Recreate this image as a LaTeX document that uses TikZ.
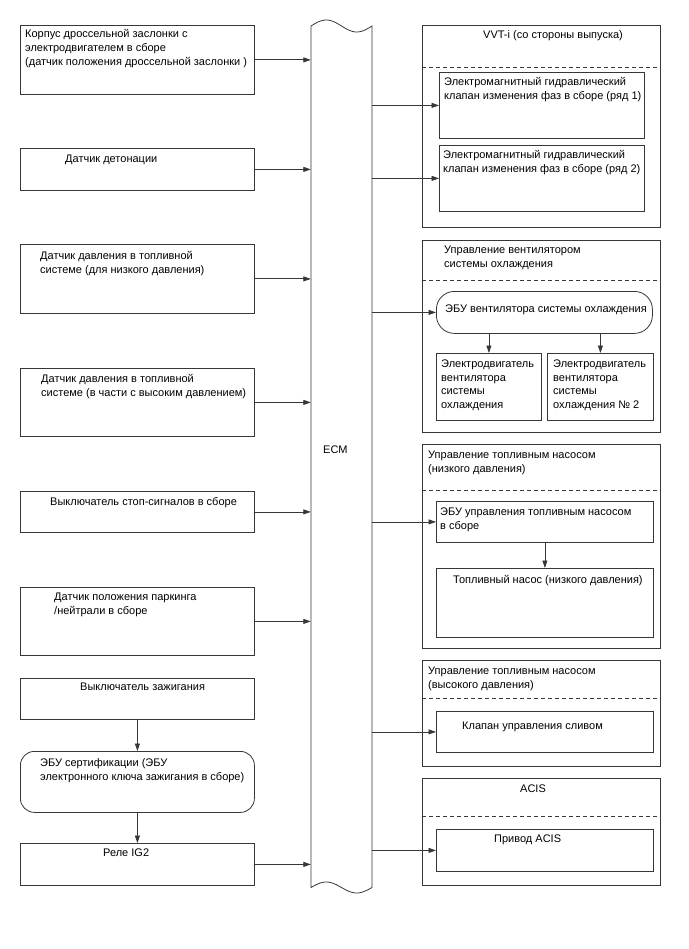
\documentclass[tikz,border=0pt]{standalone}
\usepackage{fontspec}
\setmainfont{Liberation Sans}
\usetikzlibrary{arrows.meta, calc}
\definecolor{linegray}{RGB}{55, 55, 55}
\tikzset{
  blk/.style={
    draw=linegray,
    line width=0.8pt,
    anchor=north west,
    inner sep=0pt
  },
  rblk/.style={blk, rounded corners=14pt},
  txt/.style={
    anchor=north west,
    inner sep=0pt,
    yshift=-1.5pt,
    align=left,
    font=\fontsize{11}{13.8}\selectfont
  },
  sig/.style={
    draw=linegray,
    line width=0.8pt,
    -{Triangle[length=7.5pt,width=5pt]}
  },
  sep/.style={
    draw=linegray,
    line width=0.8pt,
    dash pattern=on 4pt off 3pt
  },
  ecmline/.style={draw=linegray, line width=0.8pt}
}

\begin{document}
\begin{tikzpicture}[x=1pt, y=-1pt]
  \useasboundingbox (0,0) rectangle (688,949);

  % inputs
  \node[blk, minimum width=234, minimum height=69] (thr) at (20,25) {};
  \node[txt] at (25,28) {Корпус дроссельной заслонки с\\электродвигателем в сборе\\(датчик положения дроссельной заслонки )};
  \node[blk, minimum width=234, minimum height=42] (knk) at (20,148) {};
  \node[txt] at (65,153) {Датчик детонации};
  \node[blk, minimum width=234, minimum height=69] (lps) at (20,244) {};
  \node[txt] at (40,250) {Датчик давления в топливной\\системе (для низкого давления)};
  \node[blk, minimum width=234, minimum height=68] (hps) at (20,368) {};
  \node[txt] at (41,373) {Датчик давления в топливной\\системе (в части с высоким давлением)};
  \node[blk, minimum width=234, minimum height=41] (stp) at (20,491) {};
  \node[txt] at (50,496) {Выключатель стоп-сигналов в сборе};
  \node[blk, minimum width=234, minimum height=68] (pnp) at (20,587) {};
  \node[txt] at (54,591) {Датчик положения паркинга\\/нейтрали в сборе};
  \node[blk, minimum width=234, minimum height=41] (ign) at (20,678) {};
  \node[txt] at (80,681) {Выключатель зажигания};
  \node[rblk, minimum width=234, minimum height=61] (cert) at (20,751) {};
  \node[txt] at (40,757) {ЭБУ сертификации (ЭБУ\\электронного ключа зажигания в сборе)};
  \node[blk, minimum width=234, minimum height=42] (ig2) at (20,843) {};
  \node[txt] at (103,847) {Реле IG2};

  % ECM
  \node[inner sep=0pt, minimum width=61, minimum height=861] (ecm) at (341.5,456.5) {};
  \draw[ecmline] (311,887.5) -- (311,26)
    -- plot[domain=311:372, samples=40] (\x,{26-6*sin(5.9016*(\x-311))})
    -- (372,887.5)
    -- plot[domain=372:311, samples=40] (\x,{887.5-5.5*sin(5.9016*(\x-311))})
    -- cycle;
  \node[txt] (ecmlbl) at (323,444) {ECM};

  % VVT-i
  \node[blk, minimum width=238, minimum height=202] (vvt) at (422,25) {};
  \draw[sep] (vvt.west |- 0,67) -- (vvt.east |- 0,67);
  \node[txt] at (483,29) {VVT-i (со стороны выпуска)};
  \node[blk, minimum width=205, minimum height=66] (vvta) at (439,72) {};
  \node[txt] at (444,76) {Электромагнитный гидравлический\\клапан изменения фаз в сборе (ряд 1)};
  \node[blk, minimum width=205, minimum height=66] (vvtb) at (439,145) {};
  \node[txt] at (443,149) {Электромагнитный гидравлический\\клапан изменения фаз в сборе (ряд 2)};

  % cooling fan
  \node[blk, minimum width=238, minimum height=192] (fan) at (422,240) {};
  \draw[sep] (fan.west |- 0,280) -- (fan.east |- 0,280);
  \node[txt] at (444,244) {Управление вентилятором\\системы охлаждения};
  \node[rblk, rounded corners=18pt, minimum width=216, minimum height=42] (fanecu) at (436,291) {};
  \node[txt] at (445,303) {ЭБУ вентилятора системы охлаждения};
  \node[blk, minimum width=105, minimum height=67] (fma) at (436,353) {};
  \node[txt] at (441,358) {Электродвигатель\\вентилятора\\системы\\охлаждения};
  \node[blk, minimum width=106, minimum height=67] (fmb) at (547,353) {};
  \node[txt] at (553,358) {Электродвигатель\\вентилятора\\системы\\охлаждения №~2};

  % fuel pump, low pressure
  \node[blk, minimum width=238, minimum height=204] (lpp) at (422,444) {};
  \draw[sep] (lpp.west |- 0,490) -- (lpp.east |- 0,490);
  \node[txt] at (428,449) {Управление топливным насосом\\(низкого давления)};
  \node[blk, minimum width=217, minimum height=41] (lpecu) at (436,501) {};
  \node[txt] at (440,506) {ЭБУ управления топливным насосом\\в сборе};
  \node[blk, minimum width=217, minimum height=69] (pump) at (436,568) {};
  \node[txt] at (453,574) {Топливный насос (низкого давления)};

  % fuel pump, high pressure
  \node[blk, minimum width=238, minimum height=106] (hpp) at (422,660) {};
  \draw[sep] (hpp.west |- 0,698) -- (hpp.east |- 0,698);
  \node[txt] at (428,665) {Управление топливным насосом\\(высокого давления)};
  \node[blk, minimum width=217, minimum height=41] (spill) at (436,711) {};
  \node[txt] at (462,720) {Клапан управления сливом};

  % ACIS
  \node[blk, minimum width=238, minimum height=107] (acis) at (422,778) {};
  \draw[sep] (acis.west |- 0,816) -- (acis.east |- 0,816);
  \node[txt] at (520,783) {ACIS};
  \node[blk, minimum width=217, minimum height=42] (acisact) at (436,829) {};
  \node[txt] at (494,833) {Привод ACIS};

  % signals
  \foreach \n in {thr,knk,lps,hps,stp,pnp,ig2}
    \draw[sig] (\n.east) -- (\n.east -| ecm.west);
  \foreach \n in {vvta,vvtb,fanecu,lpecu,spill,acisact}
    \draw[sig] (\n.west -| ecm.east) -- (\n.west);
  \draw[sig] (ign) -- (cert);
  \draw[sig] (cert) -- (ig2);
  \draw[sig] (fanecu.south -| fma) -- (fma);
  \draw[sig] (fanecu.south -| fmb) -- (fmb);
  \draw[sig] (lpecu) -- (pump);
\end{tikzpicture}
\end{document}
